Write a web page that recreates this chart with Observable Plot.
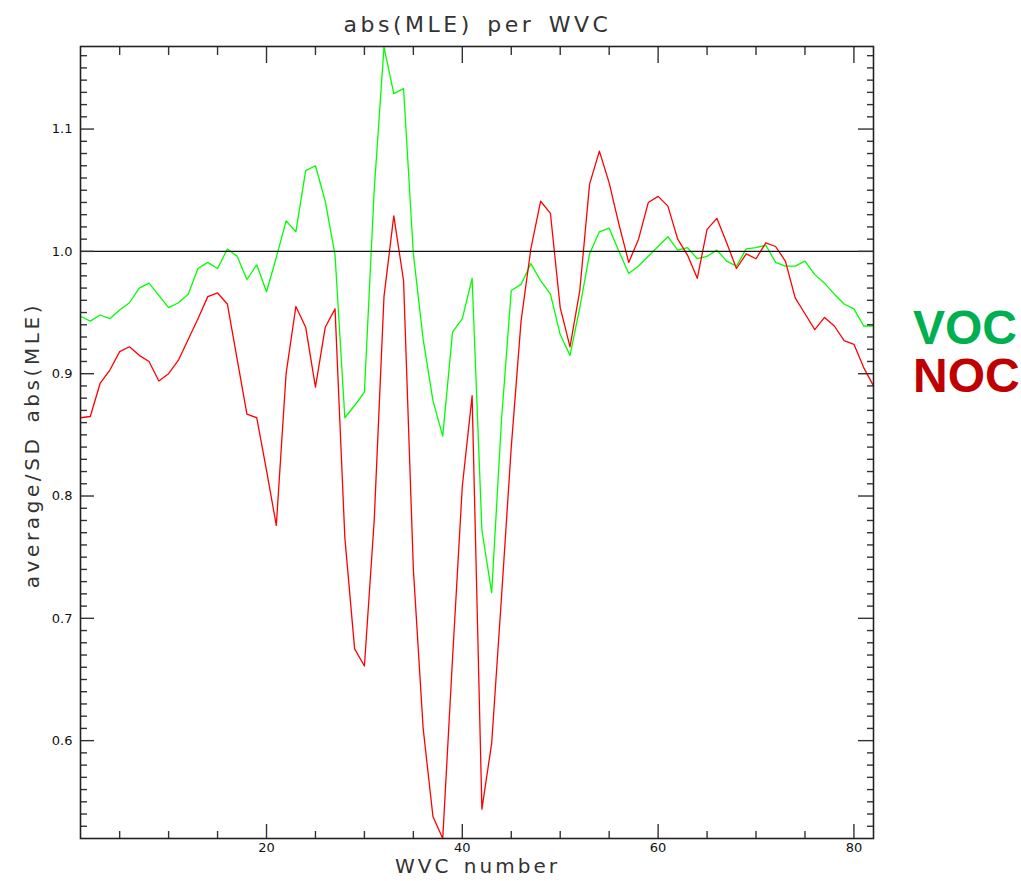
<!DOCTYPE html>
<html><head><meta charset="utf-8">
<script src="https://cdn.jsdelivr.net/npm/d3@7"></script>
<script src="https://cdn.jsdelivr.net/npm/@observablehq/plot@0.6"></script>
<style>
html,body{margin:0;padding:0;background:#fff;}
#wrap{position:relative;width:1021px;height:881px;overflow:hidden;background:#fff;}
#chart{position:absolute;left:0;top:0;}
.t{position:absolute;white-space:nowrap;line-height:1;font-family:"DejaVu Sans",sans-serif;color:#333;}
#title{left:0;width:955px;text-align:center;top:14px;font-size:22px;letter-spacing:3.5px;word-spacing:4px;}
#xlab{left:0;width:955px;text-align:center;top:856px;font-size:20px;letter-spacing:3px;word-spacing:3px;}
#ylab{left:31.6px;top:445px;font-size:20px;letter-spacing:3.6px;word-spacing:3px;transform:translate(-50%,-50%) rotate(-90deg);}
.leg{position:absolute;left:913px;font-family:"Liberation Sans",Arial,sans-serif;font-weight:bold;font-size:48px;line-height:1;}
#voc{top:304px;color:#00b050;}
#noc{top:352px;color:#c00000;}
</style></head><body>
<div id="wrap">
<div id="chart"></div>
<div class="t" id="title">abs(MLE) per WVC</div>
<div class="t" id="xlab">WVC number</div>
<div class="t" id="ylab">average/SD abs(MLE)</div>
<div class="leg" id="voc">VOC</div>
<div class="leg" id="noc">NOC</div>
</div>
<script>
// WVC numbers 1..82
const wvc = d3.range(1, 83);

// VOC (green) series
const voc = [0.947,0.943,0.948,0.945,0.952,0.958,0.970,0.974,0.964,0.954,
  0.958,0.965,0.986,0.991,0.986,1.002,0.996,0.977,0.989,0.967,
  0.995,1.025,1.016,1.066,1.070,1.041,0.997,0.864,0.874,0.885,
  1.050,1.167,1.129,1.133,0.998,0.928,0.878,0.849,0.934,0.945,
  0.978,0.772,0.721,0.862,0.968,0.973,0.990,0.976,0.965,0.932,
  0.915,0.954,0.998,1.016,1.019,1.000,0.982,0.988,0.996,1.004,
  1.012,1.001,1.003,0.994,0.996,1.001,0.992,0.988,1.002,1.003,
  1.005,0.991,0.988,0.988,0.992,0.981,0.974,0.965,0.957,0.953,
  0.939,0.939];

// NOC (red) series
const noc = [0.864,0.865,0.892,0.903,0.918,0.922,0.915,0.910,0.894,0.900,
  0.911,0.928,0.945,0.963,0.966,0.957,0.912,0.867,0.864,0.821,
  0.776,0.900,0.955,0.938,0.889,0.938,0.953,0.766,0.675,0.661,
  0.780,0.963,1.029,0.976,0.740,0.610,0.538,0.520,0.667,0.808,
  0.882,0.544,0.598,0.717,0.840,0.943,1.002,1.041,1.031,0.954,
  0.922,0.968,1.055,1.082,1.056,1.022,0.991,1.010,1.040,1.045,
  1.037,1.010,0.997,0.978,1.018,1.027,1.007,0.986,0.998,0.994,
  1.007,1.004,0.992,0.962,0.949,0.936,0.946,0.939,0.927,0.924,
  0.905,0.890];

// reference line and ticks
const refLine = [1.0];
const xMajor = [20, 40, 60, 80];
const xMinor = d3.range(5, 81, 5).filter(d => d % 20 !== 0);
const yMajor = [0.6, 0.7, 0.8, 0.9, 1.0, 1.1];
const yMinor = d3.range(53, 117).map(d => d / 100).filter(d => Math.round(d * 100) % 10 !== 0);
const xDomain = [1, 82];
const yDomain = [0.52, 1.1675];

const vocRows = wvc.map((x, i) => ({x, y: voc[i]}));
const nocRows = wvc.map((x, i) => ({x, y: noc[i]}));

const tickStyle = {label: null, fill: "none", stroke: "#333", strokeWidth: 1.4};

const chart = Plot.plot({
  width: 1021, height: 881,
  marginTop: 46, marginBottom: 43, marginLeft: 80, marginRight: 148,
  x: {domain: xDomain},
  y: {domain: yDomain},
  style: {fontFamily: "DejaVu Sans, sans-serif", fontSize: "12px", color: "#111", background: "#fff"},
  marks: [
    Plot.line(vocRows, {x: "x", y: "y", stroke: "#00ff00", strokeWidth: 1.3}),
    Plot.line(nocRows, {x: "x", y: "y", stroke: "#ff0000", strokeWidth: 1.3}),
    Plot.ruleY(refLine, {stroke: "#111", strokeWidth: 1.4}),
    Plot.axisX(xMinor, {anchor: "bottom", tickSize: -7, ...tickStyle}),
    Plot.axisX(xMajor, {anchor: "bottom", tickSize: -14, ...tickStyle}),
    Plot.axisX(xMajor, {anchor: "bottom", tickSize: 0, tickPadding: 4, label: null, fill: "#111", fontSize: 13}),
    Plot.axisX(xMinor, {anchor: "top", tickSize: -8, ...tickStyle}),
    Plot.axisX(xMajor, {anchor: "top", tickSize: -16, ...tickStyle}),
    Plot.axisY(yMinor, {anchor: "left", tickSize: -7, ...tickStyle}),
    Plot.axisY(yMajor, {anchor: "left", tickSize: -14, ...tickStyle}),
    Plot.axisY(yMajor, {anchor: "left", tickSize: 0, tickPadding: 8, label: null, fill: "#111", fontSize: 13, tickFormat: d3.format(".1f")}),
    Plot.axisY(yMinor, {anchor: "right", tickSize: -7, ...tickStyle}),
    Plot.axisY(yMajor, {anchor: "right", tickSize: -16, ...tickStyle}),
    Plot.frame({stroke: "#222", strokeWidth: 1.6})
  ]
});
document.getElementById("chart").appendChild(chart);
</script>
</body></html>
